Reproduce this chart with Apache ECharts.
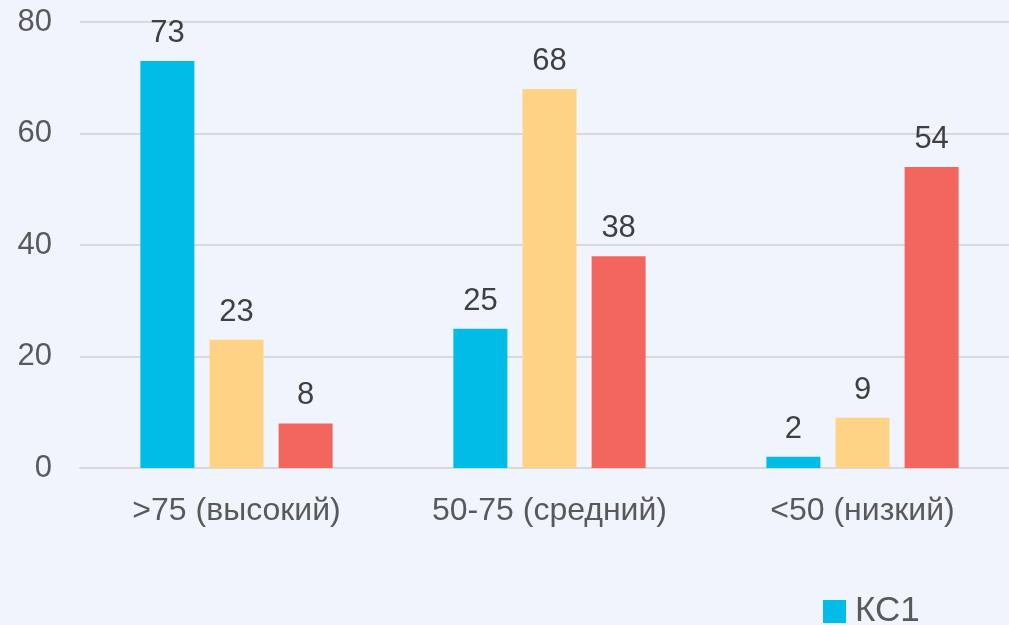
<!DOCTYPE html>
<html>
<head>
<meta charset="utf-8">
<script src="https://cdn.jsdelivr.net/npm/echarts@6/dist/echarts.min.js"></script>
<style>
  html, body { margin: 0; padding: 0; background: #f0f4fd; overflow: hidden; }
  #chart { width: 1019px; height: 625px; }
</style>
</head>
<body>
<div id="chart"></div>
<script>
// категории и значения
const categories = ['>75 (высокий)', '50-75 (средний)', '<50 (низкий)'];
const seriesNames = ['КС1', 'КС2', 'КС3'];
const ks1 = [73, 25, 2];
const ks2 = [23, 68, 9];
const ks3 = [8, 38, 54];
const colors = ['#00bce6', '#ffd385', '#f2665e'];

const chart = echarts.init(document.getElementById('chart'));

function makeSeries(name, data, color) {
    return {
        name: name,
        type: 'bar',
        data: data,
        barWidth: 54,
        barGap: '28%',
        itemStyle: { color: color },
        label: {
            show: true,
            position: 'top',
            distance: 12,
            fontFamily: 'Liberation Sans',
            fontSize: 31,
            color: '#404040'
        }
    };
}

const option = {
    backgroundColor: '#f0f4fd',
    animation: false,
    grid: {
        left: 80,
        right: 0,
        top: 22,
        bottom: 157
    },
    legend: {
        orient: 'vertical',
        left: 823,
        top: 594,
        height: 200,
        padding: 0,
        itemWidth: 23,
        itemHeight: 23,
        itemGap: 10,
        icon: 'rect',
        data: seriesNames,
        textStyle: {
            fontFamily: 'Liberation Sans',
            fontSize: 35,
            color: '#595959',
            padding: [0, 0, 0, 4]
        }
    },
    xAxis: {
        type: 'category',
        data: categories,
        axisTick: { show: false },
        axisLine: { lineStyle: { color: '#d9d9d9', width: 2 } },
        axisLabel: {
            margin: 27,
            fontFamily: 'Liberation Sans',
            fontSize: 32,
            color: '#595959'
        }
    },
    yAxis: {
        type: 'value',
        min: 0,
        max: 80,
        interval: 20,
        axisLine: { show: false },
        axisTick: { show: false },
        splitLine: { lineStyle: { color: '#d9d9d9', width: 2 } },
        axisLabel: {
            margin: 28,
            fontFamily: 'Liberation Sans',
            fontSize: 31,
            color: '#595959'
        }
    },
    series: [
        makeSeries(seriesNames[0], ks1, colors[0]),
        makeSeries(seriesNames[1], ks2, colors[1]),
        makeSeries(seriesNames[2], ks3, colors[2])
    ]
};

chart.setOption(option);
</script>
</body>
</html>
